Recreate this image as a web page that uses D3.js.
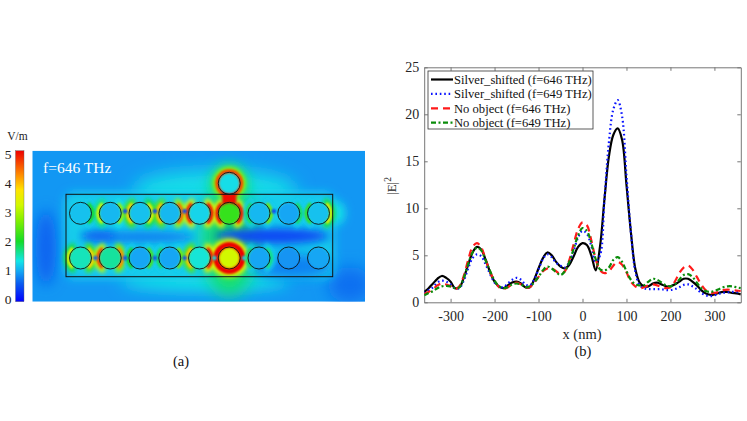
<!DOCTYPE html>
<html lang="en">
<head>
<meta charset="UTF-8">
<title>Field map (a) and |E|^2 profiles (b)</title>
<script src="https://d3js.org/d3.v7.min.js"></script>
<style>
  body { margin: 0; background: #fff; }
  svg { display: block; }
  text { font-family: "Liberation Serif", "Times New Roman", serif; }
</style>
</head>
<body>
<svg width="747" height="421"></svg>
<script>
// ---------- panel (b): |E|^2 along x ----------
const xNm = [-360,-350,-340,-330,-320,-310,-300,-290,-280,-270,-260,-250,-240,-230,-220,-210,-200,-190,-180,-170,-160,-150,-140,-130,-120,-110,-100,-90,-80,-70,-60,-50,-40,-30,-20,-10,0,10,20,30,40,50,60,70,80,90,100,110,120,130,140,150,160,170,180,190,200,210,220,230,240,250,260,270,280,290,300,310,320,330,340,350,360];

const silver646 = [1.1,1.5,2.0,2.5,2.8,2.6,2.2,1.5,1.6,2.6,4.0,5.3,5.9,5.6,4.5,3.2,2.2,1.7,1.5,1.8,2.1,2.2,2.0,1.6,1.6,2.4,3.6,4.7,5.3,5.0,4.3,3.8,3.6,4.0,4.9,5.9,6.3,6.1,5.0,3.4,6.0,11.0,15.5,17.8,18.5,17.3,12.5,7.5,3.6,2.1,1.7,1.7,2.0,2.1,1.9,1.7,1.7,1.9,2.2,2.5,2.5,2.2,1.8,1.3,0.95,0.8,0.85,1.0,1.1,1.1,1.0,0.95,0.85];
const silver649 = [1.0,1.3,1.6,2.1,2.3,2.2,1.9,1.5,1.5,2.3,3.6,4.7,5.1,4.9,4.0,3.0,2.1,1.7,1.6,2.0,2.4,2.6,2.4,1.9,1.8,2.4,3.5,4.6,5.1,4.8,4.2,3.9,3.7,4.3,5.5,6.9,7.6,7.3,6.0,4.3,5.0,11.0,17.0,20.5,21.5,19.8,13.5,7.5,3.3,1.8,1.5,1.4,1.4,1.4,1.4,1.3,1.3,1.4,1.6,1.85,1.9,1.7,1.4,1.0,0.75,0.65,0.75,0.9,1.0,1.05,1.1,1.1,1.05];
const none646 = [0.9,1.1,1.4,1.8,2.0,1.9,1.7,1.4,1.7,2.8,4.5,5.9,6.3,5.8,4.5,3.2,2.3,1.6,1.4,1.6,1.9,2.1,1.9,1.6,1.6,2.1,2.7,3.3,3.6,3.6,3.3,3.0,3.3,4.5,6.2,7.8,8.5,8.2,6.6,4.6,3.4,3.1,3.3,3.9,4.3,4.0,3.2,2.2,1.7,1.5,1.6,1.8,1.9,1.8,1.6,1.5,1.6,2.2,3.1,3.7,3.9,3.5,2.7,1.9,1.3,1.0,1.0,1.1,1.3,1.35,1.3,1.25,1.2];
const none649 = [0.75,1.0,1.2,1.5,1.7,1.75,1.7,1.5,1.6,2.6,4.1,5.3,5.8,5.5,4.4,3.3,2.3,1.7,1.5,1.6,1.9,2.0,1.9,1.6,1.7,2.1,2.7,3.4,3.8,3.6,3.2,2.9,3.3,4.3,5.7,7.1,7.9,7.6,6.3,4.6,3.5,3.4,3.7,4.5,4.8,4.3,3.3,2.4,1.9,1.8,1.8,2.2,2.5,2.4,2.1,1.8,1.7,1.9,2.4,2.9,3.0,2.7,2.1,1.5,1.2,1.1,1.2,1.4,1.6,1.7,1.7,1.6,1.5];

const seriesNames = ["Silver_shifted (f=646 THz)", "Silver_shifted (f=649 THz)", "No object (f=646 THz)", "No object (f=649 THz)"];
const xTicks = [-300, -200, -100, 0, 100, 200, 300];
const yTicks = [0, 5, 10, 15, 20, 25];

// ---------- panel (a): field magnitude map (V/m) ----------
const barTicks = [0, 1, 2, 3, 4, 5];
const cmapStops  = [0, 0.6, 1.0, 1.35, 2.0, 2.7, 3.2, 3.7, 4.2, 5];
const cmapColors = ["#0000ff", "#0a5cf0", "#14a6f4", "#12e6e6", "#14dc28", "#84f000", "#d2f800", "#ffe400", "#ff8c00", "#ee0000"];
// per rod (9 columns), field level inside the rod and on its left / right rims
const topInner = [1.15, 1.1, 1.15, 1.1, 1.25, 2.2, 1.1, 1.0, 1.15];
const topRimL  = [1.6, 3.2, 3.8, 3.9, 4.8, 4.9, 1.8, 1.6, 2.2];
const topRimR  = [2.0, 2.8, 3.4, 4.4, 4.9, 4.9, 2.6, 1.8, 3.4];
const botInner = [1.5, 1.6, 1.0, 1.0, 1.4, 3.2, 1.0, 0.9, 1.0];
const botRimL  = [3.4, 4.6, 2.0, 1.8, 3.9, 5.0, 1.8, 1.4, 1.5];
const botRimR  = [3.8, 4.2, 2.3, 2.6, 4.9, 5.0, 1.7, 1.4, 1.6];
// field in the narrow gaps between neighbouring rods (null = nothing visible)
const topGaps = [null, 0.4, 0.4, 0.4, null, null, 0.4, null];
const botGaps = [0.6, 0.5, 0.5, 0.5, 1.3, 1.3, null, null];
const hotColumn = 5;          // rod under the extra (silver) object
const extraRim = 4.6, hotRingLevel = 5.0;

const svg = d3.select("svg");
const defs = svg.append("defs");

const color = d3.scaleLinear().domain(cmapStops).range(cmapColors).clamp(true);

// gaussian blur filters, made on first use
const madeBlurs = new Set();
function blur(s) {
  const id = "blur" + String(s).replace(".", "_");
  if (!madeBlurs.has(id)) {
    madeBlurs.add(id);
    defs.append("filter").attr("id", id)
      .attr("x", "-100%").attr("y", "-100%").attr("width", "300%").attr("height", "300%")
      .append("feGaussianBlur").attr("stdDeviation", s);
  }
  return `url(#${id})`;
}

// ================= panel (a) =================
const map = { x0: 32.3, y0: 150.7, x1: 365, y1: 301.7 };
const frame = { x0: 66, y0: 194.3, x1: 332.7, y1: 276.7 };
const colX = d3.scaleLinear().domain([0, 8]).range([80.5, 318.5]);
const rowY = [213.3, 258];
const extraY = 183.3;
const R = 11;

defs.append("clipPath").attr("id", "mapClip")
  .append("rect").attr("x", map.x0).attr("y", map.y0)
  .attr("width", map.x1 - map.x0).attr("height", map.y1 - map.y0);

const field = svg.append("g").attr("clip-path", "url(#mapClip)");

field.append("rect")
  .attr("x", map.x0).attr("y", map.y0)
  .attr("width", map.x1 - map.x0).attr("height", map.y1 - map.y0)
  .attr("fill", color(0.92));

// soft background structure
const blobs = [
  { cx: 46, cy: 248, rx: 10, ry: 38, v: 0.62, b: 7 },
  { cx: 350, cy: 285, rx: 22, ry: 18, v: 0.7, b: 8 },
  { cx: 215, cy: 190, rx: 82, ry: 20, v: 1.3, b: 9 },
  { cx: 205, cy: 281, rx: 85, ry: 10, v: 1.35, b: 8 },
  { cx: 335, cy: 213, rx: 10, ry: 12, v: 1.35, b: 5 }
];
field.selectAll("ellipse.blob").data(blobs).join("ellipse")
  .attr("class", "blob")
  .attr("cx", d => d.cx).attr("cy", d => d.cy)
  .attr("rx", d => d.rx).attr("ry", d => d.ry)
  .attr("fill", d => color(d.v)).attr("filter", d => blur(d.b));

field.append("rect")
  .attr("x", frame.x0 - 2).attr("y", frame.y0 - 2)
  .attr("width", frame.x1 - frame.x0 + 4).attr("height", frame.y1 - frame.y0 + 4)
  .attr("rx", 10).attr("fill", color(1.22)).attr("filter", blur(5));

// column under the object glows
field.append("ellipse")
  .attr("cx", colX(hotColumn)).attr("cy", 240).attr("rx", 26).attr("ry", 56)
  .attr("fill", color(1.8)).attr("filter", blur(9));
field.append("circle")
  .attr("cx", colX(hotColumn)).attr("cy", extraY).attr("r", 20)
  .attr("fill", color(1.7)).attr("filter", blur(6));

// darker band between the two rows
const bands = [
  { cx: 140, cy: 237, rx: 55, ry: 6, v: 0.8, b: 4 },
  { cx: 272, cy: 236, rx: 58, ry: 8, v: 0.45, b: 5 },
  { cx: 292, cy: 266, rx: 40, ry: 12, v: 0.8, b: 6 },
  { cx: 98, cy: 236, rx: 18, ry: 5, v: 0.65, b: 4 }
];
field.selectAll("ellipse.band").data(bands).join("ellipse")
  .attr("class", "band")
  .attr("cx", d => d.cx).attr("cy", d => d.cy)
  .attr("rx", d => d.rx).attr("ry", d => d.ry)
  .attr("fill", d => color(d.v)).attr("filter", d => blur(d.b));

// rods
const rods = [];
[[topInner, topRimL, topRimR], [botInner, botRimL, botRimR]].forEach((arr, r) => {
  arr[0].forEach((v, c) => rods.push({ cx: colX(c), cy: rowY[r], inner: v, left: arr[1][c], right: arr[2][c], row: r, col: c }));
});

const arc = d3.arc();
const sides = [];
rods.forEach(d => {
  sides.push({ rod: d, mid: -Math.PI / 2, v: d.left });
  sides.push({ rod: d, mid: Math.PI / 2, v: d.right });
});
const hotSides = sides.filter(s => s.v > 1.6);

field.append("g").selectAll("path").data(hotSides).join("path")
  .attr("transform", s => `translate(${s.rod.cx},${s.rod.cy})`)
  .attr("d", s => arc({ innerRadius: R - 1, outerRadius: R + 6, startAngle: s.mid - 1.15, endAngle: s.mid + 1.15 }))
  .attr("fill", s => color(Math.max(s.v - 1.5, 1.2))).attr("filter", blur(2));

// ring round the hot bottom rod and the extra object
const hotRod = rods.find(d => d.row === 1 && d.col === hotColumn);
field.append("circle").attr("cx", hotRod.cx).attr("cy", hotRod.cy).attr("r", R + 8.5)
  .attr("fill", color(3.3)).attr("filter", blur(2.5));
field.append("circle").attr("cx", hotRod.cx).attr("cy", hotRod.cy).attr("r", R + 5)
  .attr("fill", color(hotRingLevel)).attr("filter", blur(1.2));
field.append("circle").attr("cx", colX(hotColumn)).attr("cy", extraY).attr("r", R + 5.5)
  .attr("fill", color(2.8)).attr("filter", blur(2));
field.append("circle").attr("cx", colX(hotColumn)).attr("cy", extraY).attr("r", R + 3)
  .attr("fill", color(extraRim)).attr("filter", blur(1.2));
// neck between object and the rod below it
field.append("rect").attr("x", colX(hotColumn) - 7).attr("y", extraY + 6)
  .attr("width", 14).attr("height", 20)
  .attr("fill", color(4.9)).attr("filter", blur(1.2));

field.append("g").selectAll("path").data(hotSides).join("path")
  .attr("transform", s => `translate(${s.rod.cx},${s.rod.cy})`)
  .attr("d", s => arc({ innerRadius: R - 0.5, outerRadius: R + 3, startAngle: s.mid - 0.9, endAngle: s.mid + 0.9 }))
  .attr("fill", s => color(s.v)).attr("filter", blur(0.8));

// rod interiors
field.append("g").selectAll("circle").data(rods).join("circle")
  .attr("cx", d => d.cx).attr("cy", d => d.cy).attr("r", R - 0.6)
  .attr("fill", d => color(d.inner)).attr("filter", blur(0.8));
field.append("circle").attr("cx", colX(hotColumn)).attr("cy", extraY).attr("r", R - 0.6)
  .attr("fill", color(1.3)).attr("filter", blur(0.8));

// small spots in the gaps
const gaps = [];
[topGaps, botGaps].forEach((g, r) => g.forEach((v, i) => {
  if (v !== null) gaps.push({ x: (colX(i) + colX(i + 1)) / 2, y: rowY[r] - (r === 0 ? 2 : 0), v });
}));
field.append("g").selectAll("circle").data(gaps).join("circle")
  .attr("cx", d => d.x).attr("cy", d => d.y).attr("r", 2.2)
  .attr("fill", d => color(d.v)).attr("filter", blur(0.8));

// outlines
field.append("rect")
  .attr("x", frame.x0).attr("y", frame.y0)
  .attr("width", frame.x1 - frame.x0).attr("height", frame.y1 - frame.y0)
  .attr("fill", "none").attr("stroke", "#111").attr("stroke-width", 1);
field.append("g").selectAll("circle").data(rods).join("circle")
  .attr("cx", d => d.cx).attr("cy", d => d.cy).attr("r", R)
  .attr("fill", "none").attr("stroke", "#111").attr("stroke-width", 0.9);
field.append("circle").attr("cx", colX(hotColumn)).attr("cy", extraY).attr("r", R)
  .attr("fill", "none").attr("stroke", "#111").attr("stroke-width", 0.9);

svg.append("text").attr("x", 43).attr("y", 173)
  .attr("fill", "#fff").attr("font-size", 15.5).text("f=646 THz");

// colour bar
const grad = defs.append("linearGradient").attr("id", "cbar")
  .attr("x1", 0).attr("y1", 1).attr("x2", 0).attr("y2", 0);
cmapStops.forEach((v, i) => grad.append("stop").attr("offset", v / 5).attr("stop-color", cmapColors[i]));
svg.append("rect").attr("x", 15.5).attr("y", map.y0).attr("width", 8.5).attr("height", map.y1 - map.y0)
  .attr("fill", "url(#cbar)").attr("stroke", "#666").attr("stroke-width", 0.4);
const barLabelY = d3.scaleLinear().domain([0, 5]).range([299, 154]);
svg.append("g").selectAll("text").data(barTicks).join("text")
  .attr("x", 11.5).attr("y", d => barLabelY(d)).attr("dy", "0.35em")
  .attr("text-anchor", "end").attr("font-size", 13.5).attr("fill", "#222")
  .text(d => d);
svg.append("text").attr("x", 17.5).attr("y", 140).attr("text-anchor", "middle")
  .attr("font-size", 11.5).attr("fill", "#222").text("V/m");

svg.append("text").attr("x", 181).attr("y", 366).attr("text-anchor", "middle")
  .attr("font-size", 14.5).attr("fill", "#111").text("(a)");

// ================= panel (b) =================
const x = d3.scaleLinear().domain([-360, 360]).range([424.2, 740.8]);
const y = d3.scaleLinear().domain([0, 25]).range([302.3, 67.3]);
const axisColor = "#777", tickText = "#262626";

defs.append("clipPath").attr("id", "plotClip")
  .append("rect").attr("x", x.range()[0]).attr("y", y.range()[1])
  .attr("width", x.range()[1] - x.range()[0]).attr("height", y.range()[0] - y.range()[1]);

function styleAxis(g) {
  g.attr("font-family", null);
  g.select(".domain").attr("stroke", axisColor);
  g.selectAll(".tick line").attr("stroke", axisColor);
  g.selectAll(".tick text").attr("fill", tickText).attr("font-size", 14);
}

svg.append("g").attr("transform", `translate(0,${y(0)})`)
  .call(d3.axisBottom(x).tickValues(xTicks).tickFormat(d => String(d)).tickSize(-3.5).tickSizeOuter(0).tickPadding(8.5))
  .call(styleAxis);
svg.append("g").attr("transform", `translate(0,${y(25)})`)
  .call(d3.axisTop(x).tickValues(xTicks).tickFormat("").tickSize(-3.5).tickSizeOuter(0))
  .call(styleAxis);
svg.append("g").attr("transform", `translate(${x(-360)},0)`)
  .call(d3.axisLeft(y).tickValues(yTicks).tickFormat(d => String(d)).tickSize(-3.5).tickSizeOuter(0).tickPadding(5))
  .call(styleAxis);
svg.append("g").attr("transform", `translate(${x(360)},0)`)
  .call(d3.axisRight(y).tickValues(yTicks).tickFormat("").tickSize(-3.5).tickSizeOuter(0))
  .call(styleAxis);

const series = [
  { name: seriesNames[0], values: silver646, stroke: "#000000", dash: null, width: 2.2 },
  { name: seriesNames[1], values: silver649, stroke: "#0a14ff", dash: "1.6,2.8", width: 2.2 },
  { name: seriesNames[2], values: none646, stroke: "#ff1a1a", dash: "7,5", width: 2.2 },
  { name: seriesNames[3], values: none649, stroke: "#0a8c0a", dash: "5,2.5,2,2.5", width: 2.2 }
];

const line = d3.line()
  .x((d, i) => x(xNm[i]))
  .y(d => y(d))
  .curve(d3.curveCatmullRom.alpha(0.5));

svg.append("g").attr("clip-path", "url(#plotClip)")
  .selectAll("path").data(series).join("path")
  .attr("d", d => line(d.values))
  .attr("fill", "none")
  .attr("stroke", d => d.stroke)
  .attr("stroke-width", d => d.width)
  .attr("stroke-dasharray", d => d.dash)
  .attr("stroke-linejoin", "round");

// legend
const legend = svg.append("g");
legend.append("rect").attr("x", 428).attr("y", 71).attr("width", 165).attr("height", 58)
  .attr("fill", "#fff").attr("stroke", "#333").attr("stroke-width", 0.8);
const rowsG = legend.selectAll("g").data(series).join("g")
  .attr("transform", (d, i) => `translate(0,${79.5 + i * 14.4})`);
rowsG.append("line").attr("x1", 431).attr("x2", 453).attr("y1", 0).attr("y2", 0)
  .attr("stroke", d => d.stroke).attr("stroke-width", d => d.width)
  .attr("stroke-dasharray", d => d.dash);
rowsG.append("text").attr("x", 454).attr("y", 4.5)
  .attr("font-size", 12.6).attr("fill", "#111").text(d => d.name);

// axis labels
svg.append("text").attr("x", 582).attr("y", 339).attr("text-anchor", "middle")
  .attr("font-size", 14.5).attr("fill", tickText).text("x (nm)");
const yl = svg.append("text").attr("transform", "translate(395.5,186) rotate(-90)")
  .attr("text-anchor", "middle").attr("font-size", 13).attr("fill", tickText);
yl.append("tspan").text("|E|");
yl.append("tspan").attr("dy", -5).attr("font-size", 9.5).text("2");

svg.append("text").attr("x", 583).attr("y", 356).attr("text-anchor", "middle")
  .attr("font-size", 14.5).attr("fill", "#111").text("(b)");
</script>
</body>
</html>
